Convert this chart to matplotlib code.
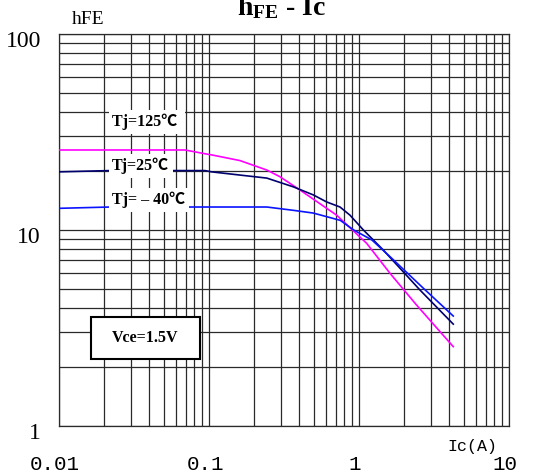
import numpy as np
import matplotlib
matplotlib.use('Agg')
import matplotlib.pyplot as plt
from matplotlib.patches import Rectangle
from matplotlib.transforms import ScaledTranslation

plt.rcParams['mathtext.fontset'] = 'custom'
plt.rcParams['mathtext.rm'] = 'Liberation Serif'
plt.rcParams['mathtext.bf'] = 'Liberation Serif:bold'

# ---- data ----
ic_125 = [0.01, 0.0692, 0.0912, 0.106, 0.161, 0.244, 0.297, 0.404, 0.71, 1.125, 1.61, 2.42, 4.25]
hfe_125 = [25.6, 25.6, 24.6, 24.1, 22.6, 20.2, 18.7, 16.0, 11.9, 8.55, 6.01, 4.14, 2.54]

ic_25 = [0.01, 0.0219, 0.094, 0.104, 0.243, 0.365, 0.496, 0.609, 0.747, 0.871, 1.07, 1.45, 2.55, 4.25]
hfe_25 = [19.8, 20.1, 20.1, 19.8, 18.4, 16.6, 15.1, 13.9, 13.1, 11.9, 10.0, 7.91, 4.94, 3.31]

ic_m40 = [0.01, 0.0219, 0.243, 0.365, 0.496, 0.75, 0.922, 1.22, 1.61, 2.69, 4.25]
hfe_m40 = [12.9, 13.1, 13.1, 12.6, 12.2, 11.2, 10.0, 8.89, 7.31, 5.04, 3.64]

xticks = [0.01, 0.1, 1, 10]
xticklabels = ['0.01', '0.1', '1', '10']
yticks = [1, 10, 100]
yticklabels = ['1', '10', '100']

serif = ['Liberation Serif', 'Noto Sans CJK SC', 'DejaVu Sans']

fig = plt.figure(figsize=(5.49, 4.74), dpi=100)
ax = fig.add_axes([59/549, 1-426/474, 450/549, 392/474])

ax.set_xscale('log')
ax.set_yscale('log')
ax.set_xlim(0.01, 10)
ax.set_ylim(1, 100)

ax.grid(True, which='both', color='#2a2a2a', lw=0.9)
ax.set_axisbelow(True)
for s in ax.spines.values():
    s.set_color('#2a2a2a')
    s.set_linewidth(0.9)

ax.plot(ic_125, hfe_125, color='#ff00ff', lw=1.2, zorder=3)
ax.plot(ic_25, hfe_25, color='#00006e', lw=1.2, zorder=3)
ax.plot(ic_m40, hfe_m40, color='#0a14ff', lw=1.2, zorder=3)

ax.tick_params(which='both', length=0)
ax.set_xticks(xticks)
ax.set_xticklabels(xticklabels, family='Liberation Mono', fontsize=15)
ax.set_yticks(yticks)
ax.set_yticklabels(yticklabels, family='Liberation Serif', fontsize=17)
ax.tick_params(axis='x', pad=21)
ax.tick_params(axis='y', pad=13)
for lab in ax.get_yticklabels():
    lab.set_transform(lab.get_transform() + ScaledTranslation(0, -5/100, fig.dpi_scale_trans))
for lab in ax.get_xticklabels():
    lab.set_transform(lab.get_transform() + ScaledTranslation(-4/100, 0, fig.dpi_scale_trans))

# temperature labels
box = dict(facecolor='white', edgecolor='none', pad=2.5)
ax.text(0.0226, 35.6, 'Tj=125℃ ', family=serif, fontweight='bold', fontsize=11.5,
        va='center', ha='left', bbox=box, zorder=5)
ax.text(0.0226, 21.2, 'Tj=25℃', family=serif, fontweight='bold', fontsize=11.5,
        va='center', ha='left', bbox=box, zorder=5)
ax.text(0.0226, 14.2, 'Tj= – 40℃', family=serif, fontweight='bold', fontsize=11.5,
        va='center', ha='left', bbox=box, zorder=5)

# Vce box
ax.add_patch(Rectangle((0.0704, 0.171), 0.244, 0.108, transform=ax.transAxes,
                       facecolor='white', edgecolor='black', lw=1.5, zorder=5))
ax.text(0.192, 0.225, 'Vce=1.5V', transform=ax.transAxes, family=serif,
        fontweight='bold', fontsize=11.5, ha='center', va='center', zorder=6)

# axis captions
fig.text(88/549, 1-19/474, 'hFE', family='Liberation Serif', fontsize=14,
         ha='center', va='center')
fig.text(472/549, 1-447/474, 'Ic(A)', family='Liberation Mono', fontsize=12,
         ha='center', va='center')
fig.text(281/549, 1-15/474, r'$\mathbf{h_{FE}}$ - Ic', family='Liberation Serif',
         fontweight='bold', fontsize=20, ha='center', va='baseline')

fig.savefig('out.png', dpi=100)
